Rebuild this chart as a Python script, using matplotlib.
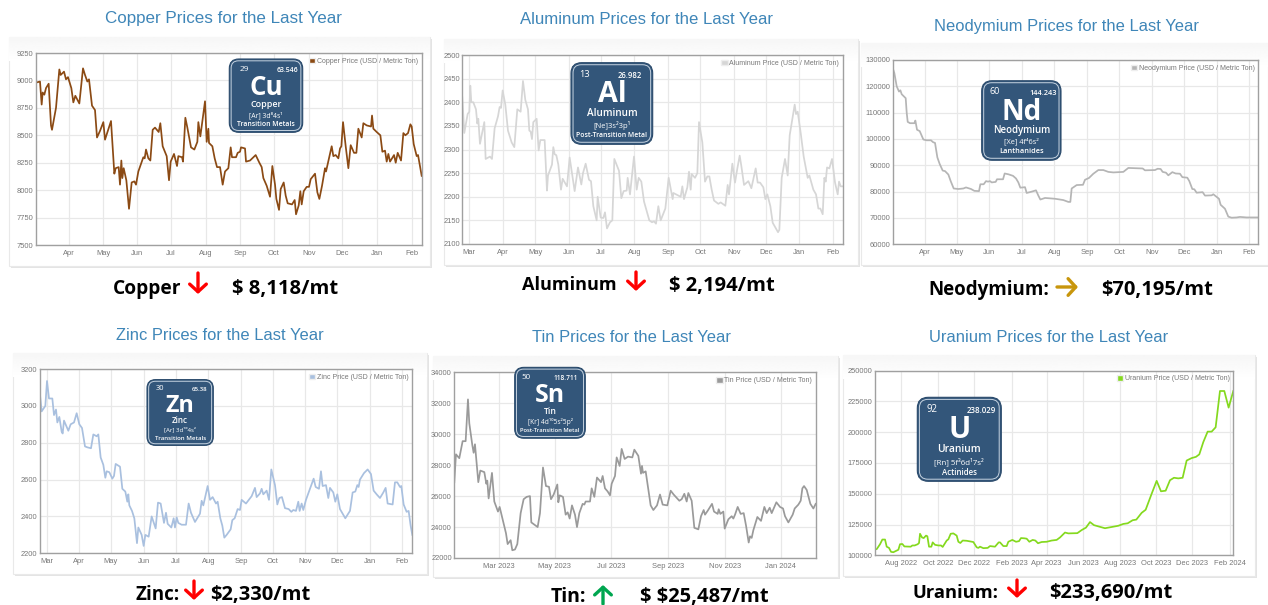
import numpy as np
import matplotlib
matplotlib.use('Agg')
import matplotlib.pyplot as plt
from matplotlib.patches import FancyBboxPatch, Rectangle, Patch

plt.rcParams['font.family'] = ['Liberation Sans', 'DejaVu Sans']

# (time on each chart's own scale, price)
copper = [(108,8980),(120,8990),(125,8780),(128,8890),(133,8870),(138,8930),(146,8970),(153,8590),(156,8550),(168,8750),
    (178,9100),(182,9050),(192,9080),(198,9010),(204,9030),(214,8930),(220,8800),(226,8860),(238,8790),(249,9110),
    (255,9050),(262,8990),(267,9010),(276,8770),(285,8730),(291,8480),(300,8540),(310,8620),(315,8460),(333,8630),
    (343,8150),(347,8200),(356,8210),(360,8050),(364,8270),(367,8110),(371,8200),(379,8090),(387,7830),(395,8070),
    (403,8080),(408,8050),(415,8170),(430,8300),(434,8290),(438,8370),(445,8290),(451,8270),(458,8550),(465,8570),
    (476,8530),(481,8610),(488,8400),(500,8310),(507,8090),(512,8260),(522,8330),(531,8220),(535,8310),(546,8300),
    (549,8260),(556,8660),(562,8570),(573,8390),(583,8370),(592,8440),(595,8620),(601,8490),(615,8810),(620,8440),
    (625,8560),(627,8430),(637,8400),(644,8290),(651,8210),(660,8210),(668,8050),(675,8170),(685,8200),(692,8390),
    (696,8300),(708,8300),(713,8340),(720,8350),(723,8390),(735,8380),(738,8260),(750,8270),(767,8320),(778,8250),
    (785,8210),(790,8110),(800,8040),(810,7940),(817,8220),(825,8050),(829,7920),(837,7820),(842,8010),(851,8070),
    (857,7950),(863,7880),(876,7870),(884,7910),(888,7780),(896,7860),(901,7990),(905,7870),(911,7990),(920,8030),
    (927,8030),(932,8100),(945,8150),(952,7980),(958,7920),(966,8040),(975,8200),(978,8170),(995,8400),(1000,8310),
    (1007,8320),(1015,8290),(1020,8380),(1024,8400),(1029,8620),(1037,8400),(1045,8200),(1052,8410),(1062,8340),(1069,8340),
    (1075,8560),(1085,8480),(1090,8610),(1100,8590),(1113,8580),(1116,8680),(1120,8560),(1130,8530),(1141,8500),(1147,8350),
    (1155,8360),(1160,8260),(1165,8330),(1170,8260),(1182,8320),(1187,8250),(1193,8340),(1203,8270),(1210,8520),(1216,8500),
    (1224,8520),(1231,8600),(1235,8580),(1241,8420),(1250,8310),(1254,8320),(1265,8130)]
aluminum = [(97,2410),(103,2335),(113,2375),(118,2380),(121,2435),(124,2400),(130,2400),(138,2385),(142,2355),(145,2365),
    (150,2312),(155,2330),(163,2358),(167,2280),(175,2283),(180,2285),(186,2280),(194,2345),(204,2370),(209,2390),
    (213,2388),(218,2425),(226,2395),(234,2340),(245,2315),(253,2305),(262,2385),(272,2380),(279,2445),(286,2405),
    (294,2385),(298,2340),(302,2338),(306,2322),(310,2358),(320,2365),(326,2298),(331,2320),(344,2320),(351,2213),
    (354,2245),(366,2268),(370,2305),(374,2290),(379,2288),(385,2268),(393,2215),(398,2238),(411,2222),(419,2283),
    (425,2255),(434,2212),(444,2262),(454,2226),(459,2250),(467,2270),(477,2236),(483,2233),(490,2180),(500,2150),
    (503,2200),(512,2156),(520,2155),(525,2167),(531,2133),(540,2146),(547,2150),(553,2280),(567,2255),(574,2197),
    (581,2212),(590,2213),(593,2240),(600,2205),(612,2285),(620,2215),(626,2240),(634,2232),(642,2190),(650,2170),
    (658,2150),(666,2146),(672,2148),(678,2143),(685,2180),(692,2150),(706,2175),(716,2240),(728,2195),(730,2208),
    (752,2200),(757,2222),(762,2195),(772,2220),(777,2253),(782,2215),(785,2248),(795,2240),(802,2250),(807,2358),
    (817,2315),(825,2232),(832,2243),(838,2243),(845,2215),(852,2192),(865,2185),(872,2188),(886,2181),(893,2225),
    (897,2205),(907,2270),(915,2230),(922,2260),(929,2287),(934,2265),(942,2225),(955,2233),(964,2218),(977,2260),
    (983,2230),(990,2230),(1000,2220),(1006,2195),(1012,2205),(1021,2180),(1028,2145),(1044,2125),(1048,2130),(1055,2240),
    (1065,2280),(1073,2245),(1079,2330),(1094,2395),(1098,2375),(1103,2380),(1112,2335),(1121,2285),(1133,2240),(1138,2245),
    (1150,2215),(1158,2205),(1165,2175),(1171,2175),(1178,2163),(1183,2240),(1187,2232),(1191,2262),(1198,2260),(1206,2280),
    (1215,2230),(1223,2205),(1227,2232),(1232,2222),(1238,2222)]
neodymium = [(113,127000),(118,125000),(125,120000),(132,118000),(136,118500),(140,117000),(152,115500),(155,110000),(158,106500),(165,106000),
    (178,106000),(181,107000),(186,103500),(194,103000),(205,99800),(215,99500),(228,99500),(234,98800),(240,98500),(247,93000),
    (254,90500),(263,88000),(270,87800),(280,86500),(287,84000),(296,81200),(310,81000),(325,81200),(333,81600),(348,81000),
    (358,80300),(372,80200),(376,82800),(386,82800),(393,84000),(399,83800),(405,84000),(410,83500),(422,83700),(426,84700),
    (444,84700),(449,86900),(460,86600),(474,86000),(483,85000),(490,83500),(496,81500),(510,81700),(515,79500),(530,80000),
    (543,80500),(550,78500),(556,77000),(570,77600),(580,77500),(600,77300),(625,76800),(640,76100),(646,76100),(650,81200),
    (665,82500),(684,82600),(690,84500),(702,85200),(715,86800),(730,88200),(745,88200),(760,87500),(775,87300),(805,87500),
    (820,89000),(863,88800),(870,88100),(900,88200),(908,88700),(917,88600),(923,87500),(933,87200),(940,86200),(952,87400),
    (962,86900),(975,86800),(982,85500),(997,85300),(1003,84000),(1012,81000),(1018,80900),(1025,79600),(1043,79800),(1050,78500),
    (1070,78600),(1075,79000),(1085,78000),(1092,77300),(1097,75000),(1110,73500),(1120,70500),(1130,70100),(1145,70200),(1155,70400),
    (1175,70200),(1210,70200)]
zinc = [(120,3060),(125,2970),(136,3000),(141,3135),(147,3040),(157,3040),(162,2950),(168,2980),(172,2910),(178,2940),
    (185,2860),(188,2850),(192,2920),(205,2865),(212,2900),(222,2910),(230,2960),(238,2900),(246,2880),(255,2780),
    (262,2775),(273,2770),(280,2845),(290,2835),(295,2845),(302,2720),(310,2680),(316,2610),(320,2645),(328,2640),
    (337,2605),(342,2620),(347,2685),(360,2670),(367,2550),(376,2535),(382,2480),(385,2520),(388,2460),(396,2430),
    (403,2390),(411,2255),(415,2340),(425,2300),(431,2240),(436,2300),(446,2290),(455,2400),(467,2335),(474,2475),
    (482,2470),(492,2365),(498,2420),(503,2360),(514,2340),(521,2390),(525,2340),(530,2395),(535,2365),(545,2355),
    (558,2355),(566,2470),(573,2420),(585,2370),(600,2415),(605,2485),(610,2460),(623,2565),(630,2490),(638,2505),
    (648,2470),(653,2480),(661,2390),(667,2350),(673,2285),(680,2300),(692,2330),(697,2380),(704,2390),(713,2440),
    (720,2435),(725,2490),(738,2470),(755,2510),(765,2555),(770,2505),(780,2525),(785,2550),(790,2520),(800,2540),
    (807,2490),(814,2655),(825,2570),(832,2465),(838,2500),(846,2505),(855,2445),(866,2440),(874,2425),(880,2435),
    (888,2430),(895,2480),(899,2430),(905,2470),(910,2435),(918,2490),(926,2530),(941,2605),(947,2560),(957,2550),
    (963,2645),(968,2565),(978,2570),(985,2500),(990,2555),(1000,2530),(1006,2480),(1012,2520),(1020,2440),(1028,2415),
    (1036,2390),(1050,2430),(1058,2530),(1066,2535),(1072,2570),(1076,2560),(1080,2600),(1092,2635),(1103,2655),(1113,2630),
    (1121,2540),(1130,2520),(1140,2500),(1150,2530),(1157,2555),(1163,2470),(1178,2465),(1185,2585),(1192,2585),(1200,2560),
    (1204,2565),(1211,2465),(1220,2425),(1226,2430),(1232,2350),(1237,2300)]
tin = [(88,26900),(93,28700),(103,28450),(109,29100),(113,29550),(122,29550),(129,32250),(133,30700),(142,29300),(146,28800),
    (150,29350),(160,26900),(166,27650),(178,27550),(184,26800),(187,27000),(191,25850),(201,27500),(208,25650),(219,25000),
    (224,25300),(233,24500),(243,23600),(248,22900),(257,23150),(262,22500),(270,22550),(277,22900),(282,23900),(287,24900),
    (296,25800),(305,25950),(315,26000),(319,24300),(338,24000),(345,24900),(354,27850),(363,26650),(372,26600),(378,25800),
    (386,26100),(397,26750),(400,25600),(404,26050),(414,25950),(422,24800),(428,24950),(434,24550),(441,25400),(450,24800),
    (456,24000),(463,24900),(473,25500),(478,25450),(482,25650),(495,25650),(500,26500),(508,25950),(516,27200),(528,26900),
    (533,27300),(540,26500),(548,26300),(555,26050),(560,26800),(570,27300),(575,28500),(584,27950),(590,29050),(599,28400),
    (609,28550),(622,28500),(628,29000),(640,28600),(648,27450),(651,27950),(654,27500),(662,27600),(677,25400),(685,25100),
    (696,25400),(705,26100),(713,25450),(727,25400),(737,26350),(746,26100),(763,25700),(770,25800),(778,26150),(785,25650),
    (790,26200),(800,25700),(808,23950),(820,23850),(828,24700),(836,25100),(840,24800),(848,25050),(861,25500),(867,25000),
    (878,24850),(881,25150),(886,24850),(895,25000),(899,23900),(910,24500),(920,24700),(925,24550),(930,24800),(938,25300),
    (947,24850),(956,24900),(963,24100),(971,23000),(975,23400),(980,23300),(985,23800),(997,24650),(1008,24400),(1018,25300),
    (1025,24900),(1034,25250),(1040,24900),(1054,25600),(1065,25300),(1074,25200),(1080,24700),(1090,24300),(1103,24800),(1109,25200),
    (1120,25450),(1127,25700),(1132,26500),(1137,26650),(1145,26400),(1150,26000),(1156,25500),(1165,25200),(1172,25500)]
uranium = [(104,104800),(110,105000),(120,109000),(127,112800),(135,112800),(140,107000),(147,106000),(153,102800),(160,102500),(175,104500),
    (180,109000),(187,109200),(193,107200),(212,107000),(217,108000),(224,108000),(233,109000),(237,110000),(240,117500),(246,114500),
    (251,114000),(258,116000),(262,115500),(267,107000),(274,107000),(278,110500),(285,108500),(295,108000),(303,108000),(308,106800),
    (320,112000),(325,113000),(332,117500),(340,117800),(350,116000),(355,111000),(361,110000),(368,112000),(380,111800),(400,110800),
    (410,106500),(415,106000),(420,107000),(430,105800),(443,106000),(450,107500),(465,107000),(476,110500),(480,110500),(490,107500),
    (500,107500),(505,111000),(517,112500),(528,111000),(537,111500),(543,114000),(553,113800),(560,113500),(568,111000),(578,112500),
    (586,112000),(594,109800),(605,110800),(620,111000),(635,112000),(650,112500),(660,114500),(675,118500),(685,117800),(712,118000),
    (725,120500),(738,122500),(750,127000),(762,124500),(775,123500),(795,122000),(815,123000),(835,124000),(850,125500),(863,126000),
    (878,128500),(889,129000),(905,134500),(917,137000),(935,150000),(950,160500),(963,152000),(977,152500),(990,161000),(1002,163000),
    (1015,162500),(1028,163000),(1040,177000),(1055,179000),(1068,180000),(1078,182000),(1090,192000),(1103,200500),(1115,200500),(1127,204000),
    (1140,233500),(1153,233500),(1166,220000),(1180,233500)]

months_mar = ['Mar', 'Apr', 'May', 'Jun', 'Jul', 'Aug', 'Sep', 'Oct', 'Nov', 'Dec', 'Jan', 'Feb']
months_apr = months_mar[1:]
tin_months = ['Mar 2023', 'May 2023', 'Jul 2023', 'Sep 2023', 'Nov 2023', 'Jan 2024']
uranium_months = ['Aug 2022', 'Oct 2022', 'Dec 2022', 'Feb 2023', 'Apr 2023', 'Jun 2023', 'Aug 2023', 'Oct 2023', 'Dec 2023', 'Feb 2024']

copper_ticks = [207, 309, 411, 512, 617, 720, 821, 926, 1027, 1131, 1235]
aluminum_ticks = [118, 218, 316, 416, 513, 613, 714, 811, 911, 1008, 1107, 1209]
neodymium_ticks = [210, 305, 403, 500, 598, 697, 793, 890, 987, 1085, 1183]
zinc_ticks = [140, 238, 333, 431, 527, 625, 723, 819, 916, 1011, 1109, 1207]
tin_ticks = [222, 389, 558, 729, 899, 1067]
uranium_ticks = [183, 295, 403, 515, 620, 730, 840, 949, 1057, 1169]

W, H = 1268, 605
BADGE = '#33567a'
TITLE = '#3f86b8'
RED = '#ff0000'
GREEN = '#00a650'
GOLD = '#c8960c'

fig = plt.figure(figsize=(W / 100, H / 100), dpi=100, facecolor='white')


def px_axes(l, t, r, b, z=0):
    return fig.add_axes([l / W, 1 - b / H, (r - l) / W, (b - t) / H], zorder=z)


back = px_axes(0, 0, W, H, 0)
front = px_axes(0, 0, W, H, 5)
for a in (back, front):
    a.set_xlim(0, W)
    a.set_ylim(H, 0)
    a.axis('off')

fade = np.linspace(0.965, 1, 40).reshape(-1, 1)


def panel(data, name, color, card, box, xlim, ylim, yticks, ticks, labels, title, title_xy, title_size=11.9):
    l, t, r, b = card
    back.add_patch(Rectangle((l + 2, t + 2), r - l, b - t, fc='#e4e4e4', ec='none', zorder=1))
    back.add_patch(Rectangle((l, t), r - l, b - t, fc='white', ec='#e9e9e9', lw=0.8, zorder=2))
    back.imshow(fade, extent=(l, r, t + 24, t), cmap='gray', vmin=0, vmax=1, aspect='auto', zorder=3)
    back.set_xlim(0, W)
    back.set_ylim(H, 0)

    ax = px_axes(*box, z=2)
    x, y = np.array(data, float).T
    ax.plot(x, y, color=color, lw=1.25, solid_joinstyle='round')
    ax.set_xlim(*xlim)
    ax.set_ylim(*ylim)
    ax.set_yticks(yticks)
    ax.set_xticks(ticks)
    ax.set_xticklabels(labels)
    ax.tick_params(length=0, labelsize=5.4, labelcolor='#777777', pad=3.5)
    ax.tick_params(axis='y', pad=1.8)
    ax.grid(color='#e8e8e8', lw=0.9)
    ax.set_axisbelow(True)
    for s in ax.spines.values():
        s.set_color('#a0a0a0')
        s.set_linewidth(1.0)
    ax.legend(handles=[Patch(fc=color, ec='#eeeeee', label=name + ' Price (USD / Metric Ton)')],
              loc='upper right', bbox_to_anchor=(1.002, 1.0), frameon=False, fontsize=5.0, labelcolor='#777777',
              handlelength=0.9, handleheight=0.9, handletextpad=0.2, borderaxespad=0.35, borderpad=0.3)
    front.text(title_xy[0], title_xy[1], title, color=TITLE, fontsize=title_size, ha='center', va='center')


def badge(l, t, r, b, number, mass, symbol, name, config, group, number_x=0.18, mass_x=0.93):
    w, h = r - l, b - t
    s = w / 73
    front.add_patch(FancyBboxPatch((l + 0.13 * w, t + 0.13 * h), 0.74 * w, 0.74 * h,
                                   boxstyle='round,pad=%f,rounding_size=%f' % (0.13 * w, 0.13 * w),
                                   fc=BADGE, ec='#2a4a6b', lw=0.8, zorder=3))
    front.add_patch(FancyBboxPatch((l + 0.14 * w, t + 0.14 * h), 0.72 * w, 0.72 * h,
                                   boxstyle='round,pad=%f,rounding_size=%f' % (0.115 * w, 0.1 * w),
                                   fc='none', ec='#c6d3e0', lw=0.7, zorder=4))
    kw = dict(color='white', family=['Open Sans', 'DejaVu Sans'], va='center', zorder=5)
    group_size = 4.4 if len(group) > 18 else 4.9
    front.text(l + number_x * w, t + 0.14 * h, number, fontsize=6 * s, ha='center', **kw)
    front.text(l + mass_x * w, t + 0.155 * h, mass, fontsize=4.9 * s, ha='right', fontweight='semibold', **kw)
    front.text(l + 0.5 * w, t + 0.395 * h, symbol, fontsize=18.5 * s, ha='center', fontweight='bold', **kw)
    front.text(l + 0.5 * w, t + 0.62 * h, name, fontsize=6.4 * s, ha='center', fontweight='semibold', **kw)
    front.text(l + 0.5 * w, t + 0.765 * h, config, fontsize=4.9 * s, ha='center', **kw)
    front.text(l + 0.5 * w, t + 0.895 * h, group, fontsize=group_size * s, ha='center', fontweight='semibold', **kw)


def caption(text, x, y, size, price, price_x):
    kw = dict(family=['Open Sans', 'DejaVu Sans'], fontweight='bold', color='black', va='center', parse_math=False)
    front.text(x, y, text, ha='left', fontsize=size, **kw)
    front.text(price_x, y, price, ha='left', fontsize=14.5, **kw)


def arrow(x0, y0, x1, y1, color):
    front.annotate('', xy=(x1, y1), xytext=(x0, y0),
                   arrowprops=dict(arrowstyle='->,head_length=0.55,head_width=0.6', color=color, lw=2.4,
                                   shrinkA=0, shrinkB=0))


panel(copper, 'Copper', '#8b4a14', (9, 37, 430, 266), (36, 53, 421.7, 245), (108, 1265), (7500, 9250),
      np.arange(7500, 9251, 250), copper_ticks, months_apr, 'Copper Prices for the Last Year', (223, 18), 12.25)
panel(aluminum, 'Aluminum', '#d6d6d6', (444, 39, 858, 265), (462.3, 55, 842.7, 244), (97, 1238), (2100, 2500),
      np.arange(2100, 2501, 50), aluminum_ticks, months_mar, 'Aluminum Prices for the Last Year', (647, 20), 12.1)
panel(neodymium, 'Neodymium', '#b5b5b5', (861, 43, 1268, 265), (892.7, 60, 1258.3, 244.3), (113, 1210), (60000, 130000),
      np.arange(60000, 130001, 10000), neodymium_ticks, months_apr, 'Neodymium Prices for the Last Year', (1066, 26))
panel(zinc, 'Zinc', '#a9c0df', (13, 353, 427, 574), (40, 369, 412.3, 553.3), (120, 1237), (2200, 3200),
      np.arange(2200, 3201, 200), zinc_ticks, months_mar, 'Zinc Prices for the Last Year', (220, 335))
panel(tin, 'Tin', '#9a9a9a', (433, 356, 838, 577), (454.3, 372.3, 815.7, 558), (88, 1172), (22000, 34000),
      np.arange(22000, 34001, 2000), tin_ticks, tin_months, 'Tin Prices for the Last Year', (631, 338))
panel(uranium, 'Uranium', '#84d91e', (843, 355, 1255, 576), (874.7, 370.7, 1233.3, 555.3), (104, 1180), (100000, 250000),
      np.arange(100000, 250001, 25000), uranium_ticks, uranium_months, 'Uranium Prices for the Last Year', (1048.5, 337))

badge(229.3, 59, 302.7, 132.3, '29', '63.546', 'Cu', 'Copper', '[Ar] 3d⁸4s¹', 'Transition Metals', 0.205, 0.94)
badge(571, 62.7, 652.7, 144.3, '13', '26.982', 'Al', 'Aluminum', '[Ne]3s²3p¹', 'Post-Transition Metal', 0.16, 0.87)
badge(981.7, 80.7, 1061, 160.3, '60', '144.243', 'Nd', 'Neodymium', '[Xe] 4f⁴6s²', 'Lanthanides', 0.164, 0.945)
badge(147, 379.7, 213.3, 445.3, '30', '65.38', 'Zn', 'Zinc', '[Ar] 3d¹⁰4s²', 'Transition Metals', 0.2, 0.91)
badge(514.7, 367.3, 585.3, 438.3, '50', '118.711', 'Sn', 'Tin', '[Kr] 4d¹⁰5s²5p²', 'Post-Transition Metal', 0.156, 0.9)
badge(917.3, 397.3, 1001.3, 481.3, '92', '238.029', 'U', 'Uranium', '[Rn] 5f³6d¹7s²', 'Actinides', 0.17, 0.933)

caption('Copper', 113, 289, 13.8, '$ 8,118/mt', 232)
caption('Aluminum', 522, 285.5, 13.1, '$ 2,194/mt', 669)
caption('Neodymium:', 928, 289.5, 13.5, '$70,195/mt', 1101)
caption('Zinc:', 135, 595, 13.5, '$2,330/mt', 210)
caption('Tin:', 551, 597, 14, '$ $25,487/mt', 640)
caption('Uranium:', 913, 593, 13.2, '$233,690/mt', 1049)

arrow(198, 273, 198, 294, RED)
arrow(636, 272, 636, 291, RED)
arrow(1057, 287, 1078, 287, GOLD)
arrow(194, 581, 194, 600, RED)
arrow(603, 604, 603, 585, GREEN)
arrow(1017, 580, 1017, 598, RED)

fig.savefig('out.png', dpi=100)
